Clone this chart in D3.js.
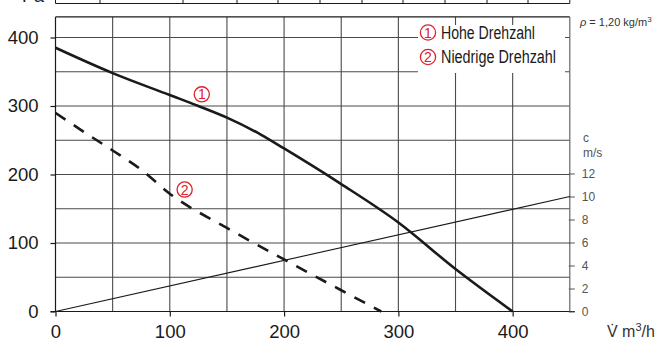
<!DOCTYPE html>
<html><head><meta charset="utf-8">
<script src="https://cdn.jsdelivr.net/npm/d3@7"></script>
<style>
html,body{margin:0;padding:0;background:#fff;}
svg{display:block;}
text{font-family:"Liberation Sans",Arial,Helvetica,sans-serif;}
</style></head>
<body>
<svg id="c" width="659" height="341"></svg>
<script>
// ---- data ----
const flowTicks = [0, 100, 200, 300, 400];
const pressureTicks = [0, 100, 200, 300, 400];
const velocityTicks = [0, 2, 4, 6, 8, 10, 12];
const gridFlow = [50, 100, 150, 200, 250, 300, 350, 400];
const gridPressure = [50, 100, 150, 200, 250, 300, 350, 400];

const flowHigh = [0, 50, 100, 125, 150, 180, 200, 250, 300, 350, 400];
const pressureHigh = [385, 348, 316, 300, 283, 258, 238, 186, 130, 62, 0];

const flowLow = [0, 25, 50, 75, 100, 150, 200, 250, 285];
const pressureLow = [290, 262, 235, 207, 172, 122, 76, 31, 0];

const flowVelocity = [0, 450];
const velocityValues = [0, 10];

const legendLabels = ["Hohe Drehzahl", "Niedrige Drehzahl"];
const legendNumbers = ["1", "2"];

// ---- scales ----
const svg = d3.select("#c");
const x = d3.scaleLinear().domain([0, 450]).range([55.5, 569.8]);
const y = d3.scaleLinear().domain([0, 400]).range([311.5, 37.5]);
const yTop = y(430);
const c = d3.scaleLinear().domain([0, 12]).range([311.5, 173.5]);

const ink = "#1a1a1a";
const gridCol = "#4a4a4a";
const red = "#e0202a";

function circledNumber(parent, cx, cy, num) {
  parent.append("circle").attr("cx", cx).attr("cy", cy).attr("r", 7.6)
    .attr("fill", "none").attr("stroke", red).attr("stroke-width", 1.3);
  parent.append("text").attr("x", cx).attr("y", cy + 5).attr("text-anchor", "middle")
    .attr("font-size", 14).attr("fill", red).text(num);
}

// ---- cut-off table row at top ----
const tableCols = [55.5, 100, 183, 237, 278, 320, 362, 403, 445, 487, 528, 569.8];
svg.append("line").attr("x1", 55.5).attr("x2", 569.8).attr("y1", 3.5).attr("y2", 3.5)
  .attr("stroke", ink).attr("stroke-width", 1);
svg.selectAll(".tc").data(tableCols).join("line")
  .attr("x1", d => d).attr("x2", d => d).attr("y1", -2).attr("y2", 3.5)
  .attr("stroke", ink).attr("stroke-width", 1);
svg.append("text").attr("x", 22).attr("y", 2).attr("font-size", 18).attr("fill", ink).text("Pa");

// ---- grid ----
const g = svg.append("g");
g.selectAll(".gh").data(gridPressure).join("line")
  .attr("x1", x(0)).attr("x2", x(450))
  .attr("y1", d => y(d)).attr("y2", d => y(d))
  .attr("stroke", gridCol).attr("stroke-width", 1.1);
g.selectAll(".gv").data(gridFlow).join("line")
  .attr("x1", d => x(d)).attr("x2", d => x(d))
  .attr("y1", yTop).attr("y2", y(0))
  .attr("stroke", gridCol).attr("stroke-width", 1.1);
// frame
g.append("line").attr("x1", x(0)).attr("x2", x(450)).attr("y1", yTop).attr("y2", yTop).attr("stroke", ink).attr("stroke-width", 1.2);
g.append("line").attr("x1", x(0)).attr("x2", x(0)).attr("y1", yTop).attr("y2", y(0)).attr("stroke", ink).attr("stroke-width", 1.2);
g.append("line").attr("x1", x(450)).attr("x2", x(450)).attr("y1", yTop).attr("y2", y(0)).attr("stroke", "#666").attr("stroke-width", 1.2);
g.append("line").attr("x1", x(0) - 5).attr("x2", x(450) + 5).attr("y1", y(0)).attr("y2", y(0)).attr("stroke", ink).attr("stroke-width", 1.2);

// ---- legend box (white, covering grid) ----
svg.append("rect").attr("x", 418).attr("y", 25).attr("width", 147).attr("height", 48).attr("fill", "#fff");
const leg = svg.append("g");
const legWidths = [94, 115];
legendLabels.forEach((lab, i) => {
  const yy = 38.5 + i * 24.5;
  circledNumber(leg, 428, yy - 6, legendNumbers[i]);
  leg.append("text").attr("x", 441).attr("y", yy).attr("font-size", 18)
    .attr("textLength", legWidths[i]).attr("lengthAdjust", "spacingAndGlyphs")
    .attr("fill", ink).text(lab);
});

// ---- axes ----
const axL = svg.append("g").attr("transform", `translate(${x(0)},0)`)
  .call(d3.axisLeft(y).tickValues(pressureTicks).tickSize(5).tickPadding(12));
axL.select(".domain").remove();
axL.selectAll("line").attr("stroke", ink).attr("stroke-width", 1.2);
axL.selectAll("text").attr("font-size", 18.5).attr("fill", ink).attr("font-family", "Liberation Sans, Arial, sans-serif");

const axB = svg.append("g").attr("transform", `translate(0,${y(0)})`)
  .call(d3.axisBottom(x).tickValues(flowTicks).tickSize(5).tickPadding(8));
axB.select(".domain").remove();
axB.selectAll("line").attr("stroke", ink).attr("stroke-width", 1.2);
axB.selectAll("text").attr("font-size", 18.5).attr("fill", ink).attr("font-family", "Liberation Sans, Arial, sans-serif");

const axR = svg.append("g").attr("transform", `translate(${x(450)},0)`)
  .call(d3.axisRight(c).tickValues(velocityTicks).tickSize(5).tickPadding(7));
axR.select(".domain").remove();
axR.selectAll("line").attr("stroke", "#555").attr("stroke-width", 1).attr("x1", -1);
axR.selectAll("text").attr("font-size", 12).attr("fill", "#555").attr("font-family", "Liberation Sans, Arial, sans-serif");

svg.append("text").attr("x", 583).attr("y", 142).attr("font-size", 12).attr("fill", "#555").text("c");
svg.append("text").attr("x", 583).attr("y", 157).attr("font-size", 12).attr("fill", "#555").text("m/s");

svg.append("text").attr("x", 607).attr("y", 337).attr("font-size", 16).attr("fill", "#333")
  .html('V\u0307 m<tspan dy="-6" font-size="11">3</tspan><tspan dy="6">/h</tspan>');

svg.append("text").attr("x", 580).attr("y", 26).attr("font-size", 11).attr("fill", "#333")
  .html('<tspan font-style="italic">\u03C1</tspan> = 1,20 kg/m<tspan dy="-4" font-size="8">3</tspan>');

// ---- lines ----
const velLine = d3.line().x((d, i) => x(flowVelocity[i])).y((d, i) => c(velocityValues[i]));
svg.append("path").attr("d", velLine(flowVelocity)).attr("fill", "none").attr("stroke", ink).attr("stroke-width", 1.1);

const hiLine = d3.line().x((d, i) => x(flowHigh[i])).y((d, i) => y(pressureHigh[i])).curve(d3.curveMonotoneX);
svg.append("path").attr("d", hiLine(flowHigh)).attr("fill", "none").attr("stroke", ink).attr("stroke-width", 2.6);

const loLine = d3.line().x((d, i) => x(flowLow[i])).y((d, i) => y(pressureLow[i])).curve(d3.curveMonotoneX);
svg.append("path").attr("d", loLine(flowLow)).attr("fill", "none").attr("stroke", ink).attr("stroke-width", 2.6)
  .attr("stroke-dasharray", "12,10");

// curve labels
circledNumber(svg, x(128), y(317), legendNumbers[0]);
circledNumber(svg, x(113), y(178), legendNumbers[1]);
</script>
</body></html>
